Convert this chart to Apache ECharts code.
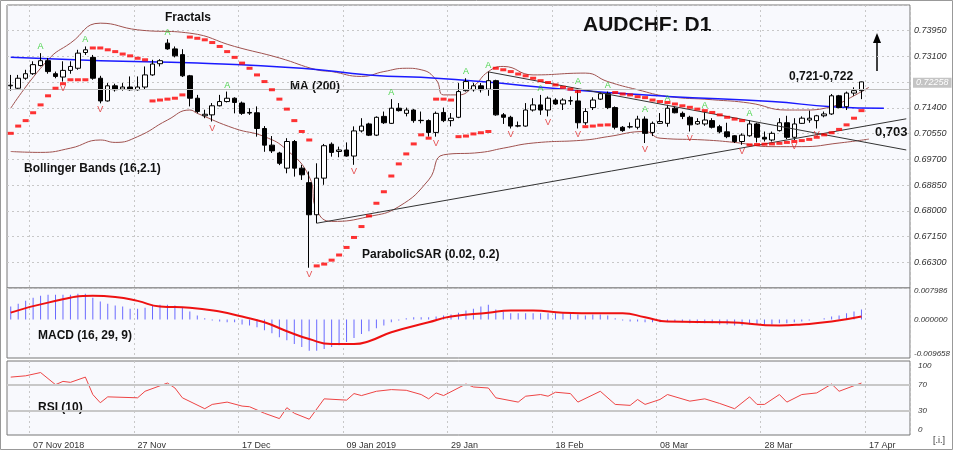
<!DOCTYPE html>
<html>
<head>
<meta charset="utf-8">
<script src="https://cdn.jsdelivr.net/npm/echarts@6/dist/echarts.min.js"></script>
<style>
  html, body { margin: 0; padding: 0; background: #fff; }
  #chart { width: 953px; height: 450px; }
</style>
</head>
<body>
<div id="chart"></div>
<script>
// trading days shown on the axis (weekends and 25-26 Dec, 1 Jan are not traded)
var skipDays = ['2018-12-25', '2018-12-26', '2019-01-01']
var firstDay = '2018-11-02'
var slotCount = 121

// daily candles: [open, close, low, high]
var ohlc = [
  [0.7213,0.7215,0.7197,0.7249],[0.7205,0.7238,0.7202,0.7249],[0.7238,0.7253,0.7233,0.7266],
  [0.7253,0.7283,0.7249,0.7294],[0.7280,0.7296,0.7277,0.7321],[0.7296,0.7260,0.7253,0.7305],
  [0.7253,0.7244,0.7238,0.7260],[0.7242,0.7264,0.7227,0.7294],[0.7264,0.7277,0.7253,0.7294],
  [0.7271,0.7321,0.7266,0.7332],[0.7323,0.7332,0.7315,0.7343],[0.7307,0.7238,0.7233,0.7315],
  [0.7238,0.7163,0.7155,0.7246],[0.7163,0.7213,0.7161,0.7222],[0.7213,0.7200,0.7194,0.7220],
  [0.7202,0.7209,0.7197,0.7222],[0.7209,0.7200,0.7197,0.7244],[0.7200,0.7209,0.7197,0.7244],
  [0.7209,0.7249,0.7202,0.7277],[0.7249,0.7285,0.7246,0.7299],[0.7286,0.7296,0.7277,0.7301],
  [0.7354,0.7335,0.7332,0.7367],[0.7335,0.7312,0.7307,0.7343],[0.7316,0.7246,0.7242,0.7334],
  [0.7246,0.7172,0.7145,0.7249],[0.7172,0.7128,0.7122,0.7183],[0.7114,0.7119,0.7106,0.7134],
  [0.7117,0.7147,0.7095,0.7156],[0.7147,0.7161,0.7145,0.7183],[0.7161,0.7172,0.7158,0.7194],
  [0.7172,0.7158,0.7122,0.7175],[0.7156,0.7122,0.7117,0.7161],[0.7125,0.7123,0.7117,0.7139],
  [0.7124,0.7072,0.7045,0.7145],[0.7072,0.7017,0.6995,0.7080],[0.7017,0.6998,0.6991,0.7047],
  [0.6991,0.6957,0.6951,0.6995],[0.6941,0.7029,0.6924,0.7040],[0.7029,0.6941,0.6913,0.7034],
  [0.6941,0.6919,0.6902,0.6952],[0.6893,0.6787,0.6612,0.6930],[0.6787,0.6908,0.6759,0.6957],
  [0.6908,0.7015,0.6886,0.7021],[0.7020,0.6993,0.6979,0.7026],[0.6996,0.7001,0.6977,0.7012],
  [0.7001,0.6981,0.6979,0.7026],[0.6981,0.7064,0.6952,0.7079],[0.7064,0.7080,0.7059,0.7106],
  [0.7087,0.7050,0.7047,0.7091],[0.7050,0.7109,0.7047,0.7112],[0.7112,0.7091,0.7087,0.7128],
  [0.7089,0.7139,0.7087,0.7169],[0.7139,0.7131,0.7128,0.7156],[0.7122,0.7133,0.7112,0.7141],
  [0.7133,0.7098,0.7091,0.7136],[0.7098,0.7099,0.7089,0.7128],[0.7098,0.7059,0.7045,0.7102],
  [0.7059,0.7122,0.7045,0.7128],[0.7125,0.7098,0.7093,0.7141],[0.7098,0.7106,0.7079,0.7123],
  [0.7109,0.7194,0.7106,0.7222],[0.7197,0.7227,0.7194,0.7238],[0.7200,0.7213,0.7194,0.7222],
  [0.7213,0.7200,0.7191,0.7222],[0.7202,0.7230,0.7180,0.7260],[0.7230,0.7117,0.7114,0.7233],
  [0.7117,0.7109,0.7087,0.7123],[0.7109,0.7080,0.7072,0.7114],[0.7081,0.7080,0.7076,0.7095],
  [0.7080,0.7133,0.7078,0.7156],[0.7133,0.7150,0.7128,0.7172],[0.7150,0.7133,0.7117,0.7183],
  [0.7133,0.7172,0.7112,0.7178],[0.7166,0.7153,0.7150,0.7172],[0.7153,0.7166,0.7133,0.7172],
  [0.7163,0.7164,0.7150,0.7178],[0.7163,0.7091,0.7072,0.7205],[0.7091,0.7128,0.7084,0.7139],
  [0.7141,0.7166,0.7133,0.7175],[0.7169,0.7187,0.7166,0.7191],[0.7187,0.7141,0.7136,0.7194],
  [0.7141,0.7076,0.7069,0.7145],[0.7076,0.7065,0.7061,0.7080],[0.7077,0.7078,0.7072,0.7092],
  [0.7076,0.7103,0.7069,0.7114],[0.7103,0.7056,0.7024,0.7112],[0.7059,0.7089,0.7047,0.7095],
  [0.7089,0.7095,0.7087,0.7123],[0.7089,0.7139,0.7078,0.7150],[0.7139,0.7124,0.7122,0.7145],
  [0.7122,0.7112,0.7103,0.7128],[0.7109,0.7084,0.7062,0.7114],[0.7087,0.7095,0.7084,0.7106],
  [0.7087,0.7100,0.7081,0.7128],[0.7098,0.7076,0.7072,0.7106],[0.7078,0.7061,0.7056,0.7084],
  [0.7061,0.7045,0.7040,0.7091],[0.7048,0.7029,0.7024,0.7050],[0.7029,0.7050,0.7018,0.7056],
  [0.7048,0.7087,0.7045,0.7100],[0.7087,0.7043,0.7026,0.7091],[0.7043,0.7037,0.7029,0.7062],
  [0.7034,0.7056,0.7029,0.7062],[0.7065,0.7091,0.7062,0.7106],[0.7091,0.7043,0.7037,0.7114],
  [0.7043,0.7087,0.7034,0.7106],[0.7089,0.7106,0.7087,0.7112],[0.7100,0.7106,0.7091,0.7131],
  [0.7098,0.7114,0.7072,0.7117],[0.7114,0.7120,0.7109,0.7128],[0.7120,0.7180,0.7117,0.7186],
  [0.7180,0.7141,0.7139,0.7183],[0.7144,0.7189,0.7133,0.7194],[0.7189,0.7197,0.7180,0.7208],
  [0.7197,0.7226,0.7169,0.7227]
]

var lastPrice = 0.72258

// parabolic SAR, one value per candle
var sar = [
  0.7056,0.7080,0.7098,0.7124,0.7150,0.7180,0.7205,0.7220,0.7233,0.7233,0.7233,
  0.7338,0.7338,0.7332,0.7326,0.7318,0.7312,0.7304,0.7299,
  0.7163,0.7166,0.7169,0.7172,0.7183,
  0.7374,0.7370,0.7365,0.7356,0.7343,0.7326,0.7307,0.7288,0.7271,0.7249,0.7227,0.7200,0.7169,0.7136,0.7098,0.7062,0.7034,
  0.6618,0.6624,0.6637,0.6654,0.6679,0.6712,0.6748,0.6783,0.6825,0.6863,0.6915,0.6955,0.6988,0.7021,0.7051,0.7040,
  0.7169,0.7169,0.7166,
  0.7045,0.7047,0.7054,0.7058,0.7062,
  0.7271,0.7266,0.7260,0.7252,0.7246,0.7238,0.7230,0.7224,0.7216,0.7208,0.7202,0.7194,
  0.7078,0.7080,0.7083,0.7084,
  0.7191,0.7186,0.7183,0.7177,0.7174,0.7166,0.7161,0.7158,0.7153,0.7147,0.7142,0.7136,0.7131,0.7125,0.7117,0.7109,0.7103,0.7098,
  0.7018,0.7019,0.7020,0.7021,0.7023,0.7026,0.7029,0.7032,0.7036,0.7043,0.7051,0.7058,0.7069,0.7084,0.7106,0.7131
]

// fractal bars (candle indexes)
var fractalUp = [4, 10, 21, 29, 51, 61, 64, 71, 76, 80, 85, 88, 93, 99]
var fractalDown = [7, 12, 27, 40, 46, 57, 67, 72, 76, 85, 91, 98, 105, 108]

// MA(200) and Bollinger Bands: [candle index, value]
var ma200 = [[0,0.7307],[12,0.7296],[25,0.7288],[39,0.7271],[48,0.7249],[57,0.7238],[63,0.7227],
  [75,0.7200],[88,0.7178],[102,0.7161],[110,0.7144],[117,0.7139]]
var bbUpper = [[0,0.7139],[5,0.7299],[8,0.7354],[12,0.7420],[17,0.7398],[24,0.7387],[30,0.7343],
  [36,0.7305],[41,0.7266],[43,0.7260],[47,0.7244],[50,0.7260],[53,0.7271],[55,0.7266],[57,0.7233],
  [58,0.7183],[60,0.7183],[62,0.7211],[64,0.7260],[66,0.7277],[70,0.7249],[77,0.7255],[80,0.7227],
  [84,0.7200],[88,0.7178],[94,0.7167],[99,0.7156],[104,0.7133],[106,0.7133],[110,0.7144],
  [112,0.7167],[115,0.7208]]
var bbLower = [[0,0.6996],[4,0.6993],[8,0.7007],[12,0.7034],[14,0.7026],[17,0.7045],[21,0.7100],
  [24,0.7133],[25,0.7122],[30,0.7072],[34,0.7045],[37,0.7001],[40,0.6913],[41,0.6803],[43,0.6765],
  [48,0.6781],[52,0.6814],[56,0.6902],[58,0.6985],[63,0.6993],[66,0.7007],[70,0.7024],[77,0.7034],
  [80,0.7045],[85,0.7062],[87,0.7040],[93,0.7034],[97,0.7026],[102,0.7012],[106,0.7012],
  [111,0.7024],[115,0.7037]]

// trend lines: [candle index, value] end points
var supportLine = [[41, 0.6759], [120, 0.7104]]
var resistLine = [[64, 0.7259], [120, 0.7001]]

// MACD (16, 29, 9)
var macd = [
  0.0036,0.0044,0.0052,0.0061,0.0066,0.0069,0.0069,0.0069,0.0069,0.0072,
  0.0072,0.0061,0.0050,0.0044,0.0039,0.0036,0.0030,0.0030,0.0033,0.0039,
  0.0041,0.0041,0.0039,0.0033,0.0022,0.0011,0.0003,-0.0003,-0.0006,-0.0008,
  -0.0008,-0.0014,-0.0017,-0.0022,-0.0030,-0.0039,-0.0050,-0.0058,-0.0069,-0.0077,
  -0.0088,-0.0088,-0.0083,-0.0077,-0.0072,-0.0063,-0.0052,-0.0041,-0.0033,-0.0025,
  -0.0017,-0.0008,-0.0003,0.0003,0.0006,0.0006,0.0006,0.0008,0.0011,0.0014,
  0.0019,0.0025,0.0030,0.0036,0.0041,0.0028,0.0022,0.0017,0.0017,0.0017,
  0.0017,0.0017,0.0017,0.0017,0.0017,0.0017,0.0014,0.0011,0.0014,0.0014,
  0.0011,0.0003,-0.0003,-0.0006,-0.0006,-0.0008,-0.0008,-0.0008,-0.0006,-0.0006,
  -0.0008,-0.0011,-0.0011,-0.0011,-0.0011,-0.0014,-0.0014,-0.0017,-0.0017,-0.0014,
  -0.0014,-0.0014,-0.0014,-0.0011,-0.0011,-0.0008,-0.0006,-0.0003,0.0000,0.0003,
  0.0008,0.0011,0.0017,0.0022,0.0028
]
var macdSignal = [[0,0.0019],[5,0.0047],[11,0.0066],[14,0.0063],[17,0.0052],[20,0.0036],[24,0.0033],
  [28,0.0022],[31,0.0008],[34,-0.0008],[37,-0.0033],[40,-0.0055],[43,-0.0069],[46,-0.0069],
  [48,-0.0061],[51,-0.0036],[56,-0.0008],[59,0.0008],[64,0.0019],[67,0.0025],[70,0.0025],
  [74,0.0019],[79,0.0017],[82,0.0017],[85,0.0006],[88,-0.0006],[96,-0.0008],[103,-0.0017],
  [106,-0.0014],[110,-0.0006],[114,0.0008]]
var macdTicks = [-0.009658, 0, 0.007986]

// RSI (10)
var rsi = [[0,82.6],[2,84.6],[4,89.7],[6,70.8],[7,75.9],[8,74.4],[10,82.6],[11,55.4],[12,42.6],
  [13,51.8],[17,50.3],[18,60.5],[21,73.3],[22,65.6],[23,50.3],[26,33.3],[27,40],[29,43.6],
  [31,37.4],[32,36.4],[34,26.2],[36,17.9],[37,34.9],[38,26.2],[40,16.9],[42,48.7],[45,46.7],
  [46,56.9],[47,53.8],[49,60.5],[51,63.1],[53,62],[55,55.4],[56,48.7],[57,57.9],[58,53.8],
  [61,71.8],[62,67.2],[64,65.6],[65,50.3],[68,43.6],[69,52.8],[71,55.4],[72,52.8],[73,59],
  [75,56.9],[76,43.6],[79,60.5],[81,40],[83,38.5],[84,47.7],[85,40],[87,47.7],[88,55.4],
  [91,45.1],[93,48.7],[95,41.5],[97,33.3],[99,51.8],[100,40],[101,40],[103,55.4],[104,43.6],
  [106,55.4],[108,57.9],[110,71.8],[111,60.5],[113,69.2],[114,73.3]]
var rsiTicks = [0, 30, 70, 100]
var rsiLevels = [30, 70]

// price axis step
var priceStep = 0.0085

var months = ['Jan','Feb','Mar','Apr','May','Jun','Jul','Aug','Sep','Oct','Nov','Dec']
var dates = []
var d = new Date(firstDay + 'T00:00:00Z')
while (dates.length < slotCount) {
  var s = d.toISOString().slice(0, 10)
  var wd = d.getUTCDay()
  if (wd !== 0 && wd !== 6 && skipDays.indexOf(s) < 0) dates.push(s)
  d.setUTCDate(d.getUTCDate() + 1)
}

function isTick(i) { return i >= 3 && (i - 3) % 14 === 0 }
function dateLabel(val, i) {
  var p = val.split('-')
  var txt = p[2] + ' ' + months[+p[1] - 1]
  var prev = dates[i - 14]
  if (i === 3 || (prev && prev.slice(0, 4) !== p[0])) txt += ' ' + p[0]
  return txt
}

var dotted = { show: true, interval: function (i) { return isTick(i) }, lineStyle: { color: '#c8c8c8', type: [2, 3] } }
var font = 'Liberation Sans'

var chart = echarts.init(document.getElementById('chart'))
var option = {
  animation: false,
  backgroundColor: '#fff',
  textStyle: { fontFamily: font },
  grid: [
    { left: 7, width: 903, top: 5, height: 283, show: true, backgroundColor: '#f8f9fd', borderColor: '#777' },
    { left: 7, width: 903, top: 288, height: 70, show: true, backgroundColor: '#f8f9fd', borderColor: '#777' },
    { left: 7, width: 903, top: 361, height: 75, show: true, backgroundColor: '#f8f9fd', borderColor: '#777' }
  ],
  xAxis: [0, 1, 2].map(function (g) {
    return {
      type: 'category', gridIndex: g, data: dates, boundaryGap: true,
      axisLine: { show: false }, axisTick: { show: false },
      splitLine: dotted,
      axisLabel: g < 2 ? { show: false } : {
        interval: function (i) { return isTick(i) }, formatter: dateLabel,
        align: 'left', fontSize: 9, color: '#333', margin: 6
      }
    }
  }),
  yAxis: [
    {
      type: 'value', gridIndex: 0, position: 'right', scale: true,
      min: priceStep * 77, max: priceStep * 88, interval: priceStep,
      axisLine: { show: false }, axisTick: { show: false },
      splitLine: { lineStyle: { color: '#c8c8c8', type: [2, 3] } },
      axisLabel: {
        showMinLabel: false, showMaxLabel: false, fontSize: 9, fontStyle: 'italic', color: '#333', margin: 4,
        formatter: function (v) { return Math.abs(v - lastPrice) < 0.0005 ? '' : v.toFixed(5) }
      }
    },
    {
      type: 'value', gridIndex: 1, position: 'right', min: -0.0108, max: 0.0088,
      axisLine: { show: false }, axisTick: { show: false }, splitLine: { show: false },
      axisLabel: { customValues: macdTicks, fontSize: 8, fontStyle: 'italic', color: '#333', margin: 4,
        formatter: function (v) { return v.toFixed(6) } }
    },
    {
      type: 'value', gridIndex: 2, position: 'right', min: -7.7, max: 107.7,
      axisLine: { show: false }, axisTick: { show: false }, splitLine: { show: false },
      axisLabel: { customValues: rsiTicks, fontSize: 8, fontStyle: 'italic', color: '#333', margin: 8 }
    }
  ],
  series: [
    {
      type: 'line', data: bbUpper, smooth: true, symbol: 'none',
      lineStyle: { color: '#a0524f', width: 1 }, z: 2
    },
    {
      type: 'line', data: bbLower, smooth: true, symbol: 'none',
      lineStyle: { color: '#a0524f', width: 1 }, z: 2
    },
    {
      type: 'line', data: ma200, smooth: true, symbol: 'none',
      lineStyle: { color: '#1a1aff', width: 1.5 }, z: 3,
      markLine: {
        silent: true, symbol: 'none',
        lineStyle: { color: '#333', width: 1, type: 'solid' },
        label: { show: false },
        data: [
          [{ coord: supportLine[0] }, { coord: supportLine[1] }],
          [{ coord: resistLine[0] }, { coord: resistLine[1] }]
        ]
      }
    },
    {
      type: 'candlestick', data: ohlc, barWidth: 5, z: 4,
      itemStyle: { color: '#ffffff', color0: '#000000', borderColor: '#000', borderColor0: '#000', borderWidth: 1 },
      markLine: {
        silent: true, symbol: 'none',
        lineStyle: { color: '#c0c0c0', width: 1, type: 'solid' },
        label: {
          position: 'end', formatter: lastPrice.toFixed(5), fontSize: 9, fontStyle: 'italic',
          offset: [0, -7],
          color: '#fff', backgroundColor: '#c4c4c4', padding: [1, 3, 0, 3], distance: 3
        },
        data: [{ yAxis: lastPrice }]
      }
    },
    {
      type: 'scatter', data: sar.map(function (v, i) { return [i, v] }),
      symbol: 'rect', symbolSize: [6, 3], itemStyle: { color: '#ff0000' }, z: 5
    },
    {
      type: 'scatter', symbolSize: 0, z: 6,
      data: fractalUp.map(function (i) { return [i, ohlc[i][3]] }),
      label: { show: true, position: 'top', distance: 2, formatter: 'A', color: '#22cc22', fontSize: 9 }
    },
    {
      type: 'scatter', symbolSize: 0, z: 6,
      data: fractalDown.map(function (i) { return [i, ohlc[i][2]] }),
      label: { show: true, position: 'bottom', distance: 2, formatter: 'V', color: '#e02020', fontSize: 9 }
    },
    {
      type: 'bar', xAxisIndex: 1, yAxisIndex: 1, data: macd, barWidth: 1,
      itemStyle: { color: '#6a6aff' }
    },
    {
      type: 'line', xAxisIndex: 1, yAxisIndex: 1, data: macdSignal, smooth: true, symbol: 'none',
      lineStyle: { color: '#ee1111', width: 2 }
    },
    {
      type: 'line', xAxisIndex: 2, yAxisIndex: 2, data: rsi, symbol: 'none',
      lineStyle: { color: '#ee4444', width: 1 },
      markLine: {
        silent: true, symbol: 'none', label: { show: false },
        lineStyle: { color: '#c8c8c8', width: 2, type: 'solid' },
        data: rsiLevels.map(function (v) { return { yAxis: v } })
      }
    }
  ],
  graphic: [
    { type: 'rect', shape: { x: 0.5, y: 0.5, width: 952, height: 449 }, style: { fill: 'none', stroke: '#999' } },
    { type: 'text', left: 165, top: 12, style: { text: 'Fractals', font: 'bold 12px ' + font, fill: '#111' } },
    { type: 'text', left: 290, top: 81, style: { text: 'MA (200)', font: 'bold 12px ' + font, fill: '#111' } },
    { type: 'text', left: 24, top: 163, style: { text: 'Bollinger Bands (16,2.1)', font: 'bold 12px ' + font, fill: '#111' } },
    { type: 'text', left: 362, top: 249, style: { text: 'ParabolicSAR (0.02, 0.2)', font: 'bold 12px ' + font, fill: '#111' } },
    { type: 'text', left: 583, top: 15, style: { text: 'AUDCHF: D1', font: 'bold 21px ' + font, fill: '#111' } },
    { type: 'text', left: 789, top: 71, style: { text: '0,721-0,722', font: 'bold 12px ' + font, fill: '#111' } },
    { type: 'text', left: 875, top: 126, style: { text: '0,703', font: 'bold 13px ' + font, fill: '#111' } },
    { type: 'text', left: 38, top: 330, style: { text: 'MACD (16, 29, 9)', font: 'bold 12px ' + font, fill: '#111' } },
    { type: 'text', left: 38, top: 402, style: { text: 'RSI (10)', font: 'bold 12px ' + font, fill: '#111' } },
    { type: 'line', shape: { x1: 877, y1: 71, x2: 877, y2: 40 }, style: { stroke: '#000', lineWidth: 1.5 } },
    { type: 'polygon', shape: { points: [[877, 33], [873, 43], [881, 43]] }, style: { fill: '#000' } },
    { type: 'text', left: 933, top: 436, style: { text: '[.i.]', font: '9px ' + font, fill: '#333' } }
  ]
}

option && chart.setOption(option)
</script>
</body>
</html>
